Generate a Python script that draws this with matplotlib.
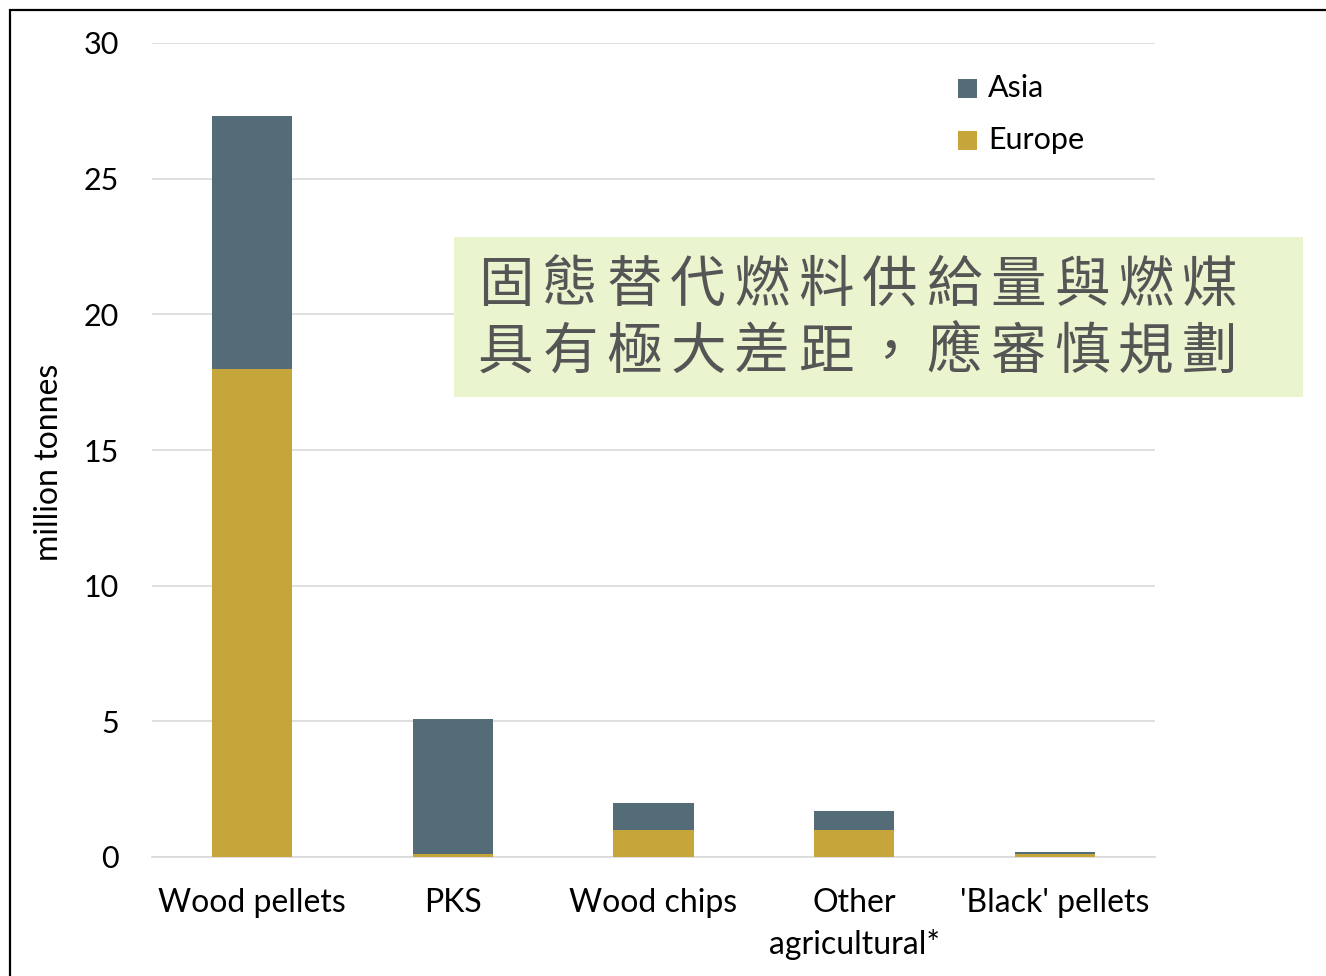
import matplotlib
matplotlib.use("Agg")
import matplotlib.pyplot as plt
from matplotlib.patches import Rectangle

categories = ["Wood pellets", "PKS", "Wood chips", "Other\nagricultural*", "'Black' pellets"]
europe = [18.0, 0.1, 1.0, 1.0, 0.1]
asia = [9.3, 5.0, 1.0, 0.7, 0.1]
y_ticks = [0, 5, 10, 15, 20, 25, 30]
series_names = ["Asia", "Europe"]
message_lines = ["固態替代燃料供給量與燃煤", "具有極大差距，應審慎規劃"]

asia_color = "#546c78"
europe_color = "#c6a63a"

plt.rcParams["font.family"] = ["Lato", "DejaVu Sans"]

W, H = 1326, 976
fig = plt.figure(figsize=(W / 100, H / 100), dpi=100)
fig.patch.set_facecolor("white")


def fx(px):
    return px / W


def fy(py):
    return 1 - py / H


ax = fig.add_axes([fx(152), fy(857), (1155 - 152) / W, (857 - 43) / H])
x = list(range(len(categories)))
ax.bar(x, europe, width=0.4, color=europe_color, zorder=3)
ax.bar(x, asia, width=0.4, bottom=europe, color=asia_color, zorder=3)

ax.set_xlim(-0.5, len(categories) - 0.5)
ax.set_ylim(0, 30)
ax.set_yticks(y_ticks)
ax.set_yticklabels([str(v) for v in y_ticks], fontsize=22)
ax.set_xticks(x)
ax.set_xticklabels(categories, fontsize=23, linespacing=1.45)
ax.tick_params(axis="both", length=0)
ax.tick_params(axis="y", pad=24)
ax.tick_params(axis="x", pad=22)
ax.yaxis.grid(True, color="#d9d9d9", linewidth=1.2, zorder=0)
for s in ["top", "right", "left"]:
    ax.spines[s].set_visible(False)
ax.spines["bottom"].set_color("#d9d9d9")
ax.spines["bottom"].set_linewidth(1.2)
ax.set_ylabel("million tonnes", fontsize=23)
ax.yaxis.set_label_coords(-(152 - 64) / (1155 - 152), (857 - 462) / (857 - 43))

# legend: colour squares with labels
for name, color, cy in zip(series_names, [asia_color, europe_color], [88, 140]):
    fig.patches.append(Rectangle((fx(958), fy(cy + 9.5)), 19 / W, 19 / H,
                                 transform=fig.transFigure, facecolor=color,
                                 edgecolor="none"))
    fig.text(fx(988), fy(cy), name, fontsize=22, va="center", ha="left")

# highlighted message box
fig.patches.append(Rectangle((fx(454), fy(397)), (1303 - 454) / W, (397 - 237) / H,
                             transform=fig.transFigure, facecolor="#eaf5d0",
                             edgecolor="none", zorder=5))
msg_font = ["Noto Sans CJK TC", "DejaVu Sans"]
for line, cy in zip(message_lines, [286, 353]):
    for i, ch in enumerate(line):
        fig.text(fx(506 + 64 * i), fy(cy), ch, fontsize=40, color="#555555",
                 family=msg_font, va="center", ha="center", zorder=6)

# outer frame
fig.patches.append(Rectangle((fx(10), -0.1), 1.2, fy(10) + 0.1,
                             transform=fig.transFigure, facecolor="none",
                             edgecolor="black", linewidth=1.6, zorder=10))

fig.savefig("out.png", dpi=100)
